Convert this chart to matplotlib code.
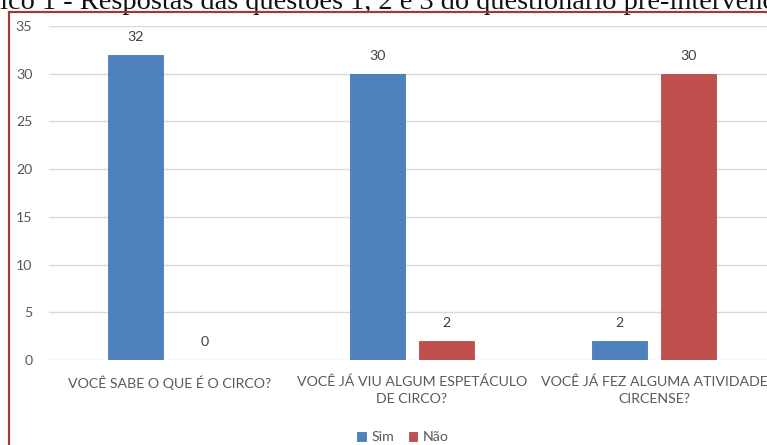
import matplotlib
matplotlib.use("Agg")
import matplotlib.pyplot as plt
import numpy as np
from matplotlib.patches import Rectangle

categories = ["VOCÊ SABE O QUE É O CIRCO?",
              "VOCÊ JÁ VIU ALGUM ESPETÁCULO\nDE CIRCO?",
              "VOCÊ JÁ FEZ ALGUMA ATIVIDADE\nCIRCENSE?"]
series_names = ["Sim", "Não"]
sim = [32, 30, 2]
nao = [0, 2, 30]
yticks = [0, 5, 10, 15, 20, 25, 30, 35]
title = "Gráfico 1 - Respostas das questões 1, 2 e 3 do questionário pré-intervenção"

W, H = 767, 445
fig = plt.figure(figsize=(W/100, H/100), dpi=100)
fig.patch.set_facecolor("white")

font = "Lato"
tcol = "#595959"
lcol = "#404040"
fsz = 10.2

ax = fig.add_axes([49/W, 85/H, 726/W, 334/H])
x = np.arange(len(categories))
bw = 0.227
off = 0.143
b1 = ax.bar(x - off, sim, bw, color="#4f81bd", edgecolor="#4a7ab5", linewidth=0.6, label=series_names[0], zorder=3)
b2 = ax.bar(x + off, nao, bw, color="#c0504d", edgecolor="#b54a47", linewidth=0.6, label=series_names[1], zorder=3)

for bars, vals in ((b1, sim), (b2, nao)):
    for r, v in zip(bars, vals):
        ax.annotate(str(v), (r.get_x() + r.get_width()/2, v), xytext=(0, 13),
                    textcoords="offset points", ha="center", va="center",
                    fontsize=fsz, color=lcol, family=font)

ax.set_xlim(-0.5, len(categories) - 0.5)
ax.set_ylim(0, 35)
ax.set_yticks(yticks)
ax.set_xticks(x)
ax.set_xticklabels(categories, fontsize=fsz, color=tcol, family=font, linespacing=1.5)
for lab in ax.get_yticklabels():
    lab.set_fontsize(fsz); lab.set_color(tcol); lab.set_family(font)
ax.tick_params(axis="both", length=0)
ax.tick_params(axis="y", pad=12)
ax.tick_params(axis="x", pad=11)
for s in ax.spines.values():
    s.set_visible(False)
ax.grid(axis="y", color="#d9d9d9", linewidth=1.0, zorder=0)
ax.set_axisbelow(True)

leg = fig.legend(handles=[b1, b2], labels=series_names, loc="center",
                 bbox_to_anchor=(403/W, 1 - 437/H), ncol=2, frameon=False,
                 handlelength=0.6, handleheight=0.6, handletextpad=0.4,
                 columnspacing=1.0, prop={"family": font, "size": fsz})
for t in leg.get_texts():
    t.set_color(tcol)

# border
fig.patches.append(Rectangle((8.5/W, -0.1), 1.2, (H - 11.5)/H + 0.1,
                             transform=fig.transFigure, fill=False,
                             edgecolor="#9b3b3b", linewidth=1.6, zorder=10))

# clipped title (cut off by the top edge, as in the reference)
renderer = fig.canvas.get_renderer()
tfam = "Liberation Serif"
fs = 15
tmp = fig.text(0, 0, "ico 1 - Respostas das questões 1, 2 e 3 do questionário pré-interven",
               fontsize=fs, family=tfam)
wv = tmp.get_window_extent(renderer).width
tmp.remove()
fs = fs * 767 / wv
tmp = fig.text(0, 0, "Gráf", fontsize=fs, family=tfam)
wp = tmp.get_window_extent(renderer).width
tmp.remove()
fig.text(-wp / W, 1 - 9/H, title, fontsize=fs, family=tfam,
         ha="left", va="baseline", color="#111111")

fig.savefig("out.png", dpi=100)
